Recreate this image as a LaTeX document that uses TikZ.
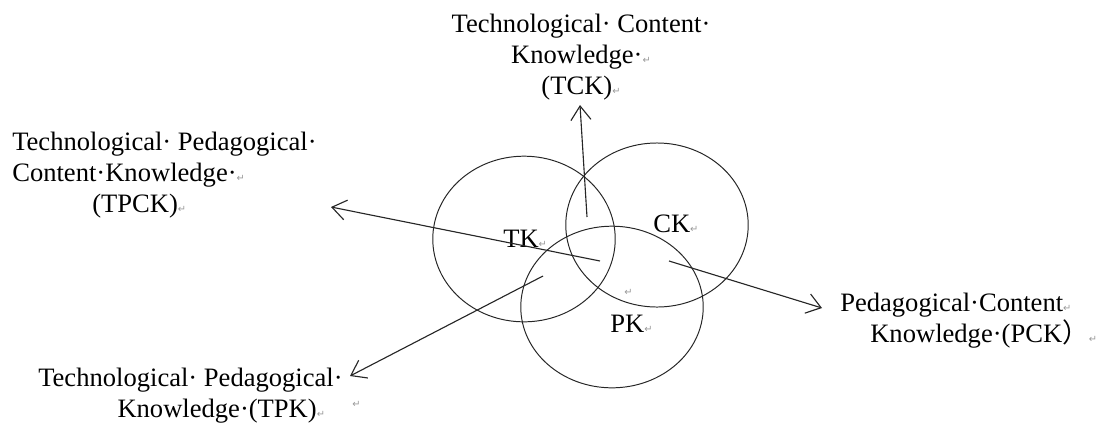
\documentclass[tikz,border=0pt]{standalone}
\usepackage{fontspec}
\setmainfont{Liberation Serif}
\newfontfamily\retfont{DejaVu Sans}
\newfontfamily\cjk{Noto Sans CJK SC}
\usetikzlibrary{arrows.meta}
\definecolor{retgray}{gray}{0.6}
\newcommand{\ret}{{\retfont\fontsize{7pt}{7pt}\selectfont\textcolor{retgray}{↵}}}
\tikzset{
  set/.style={line width=0.7pt, black!85},
  arr/.style={line width=0.8pt, black!85, -{Straight Barb[length=3.5mm,width=5mm]}},
  lbl/.style={inner sep=0pt, font=\fontsize{18.9pt}{22pt}\selectfont, align=left, anchor=base west},
}
\begin{document}
\begin{tikzpicture}[x=0.025cm, y=-0.025cm]
\useasboundingbox (0,0) rectangle (1099,430);

\draw[set] (524,239) ellipse [x radius=2.28cm, y radius=2.07cm];
\draw[set] (657,225) ellipse [x radius=2.28cm, y radius=2.05cm];
\draw[set] (612,307) ellipse [x radius=2.28cm, y radius=2.02cm];

\node[lbl] (tk) at (503,247) {TK\ret};
\node[lbl] (ck) at (653,232) {CK\ret};
\node[lbl] (pk) at (610,332) {PK\ret};
\node[lbl] (mid) at (624,295) {\ret};

\coordinate (tckfrom) at (587,217);
\coordinate (tckto) at (580,105);
\coordinate (tpckfrom) at (600,261);
\coordinate (tpckto) at (331,207);
\coordinate (pckfrom) at (669,261);
\coordinate (pckto) at (822,308);
\coordinate (tpkfrom) at (543,276);
\coordinate (tpkto) at (350,376);

\draw[arr] (tckfrom) -- (tckto);
\draw[arr] (tpckfrom) -- (tpckto);
\draw[arr] (pckfrom) -- (pckto);
\draw[arr] (tpkfrom) -- (tpkto);

% base of a multi-line node = baseline of its last line
\node[lbl, align=center, anchor=base] (tck) at (581,94)
  {Technological·\ Content·\\Knowledge·\ret\\(TCK)\ret};
\node[lbl] (tpck) at (12,212)
  {Technological·\ Pedagogical·\\Content·Knowledge·\ret\\\hspace*{2cm}(TPCK)\ret};
\node[lbl] (pck) at (840,342)
  {Pedagogical·Content\ret\\\hspace*{0.75cm}Knowledge·(PCK{\cjk ）}\ret};
\node[lbl] (tpk) at (38,417)
  {Technological·\ Pedagogical·\\\hspace*{1.98cm}Knowledge·(TPK)\ret};
\node[lbl] (tpkret) at (352,407) {\ret};
\end{tikzpicture}
\end{document}
